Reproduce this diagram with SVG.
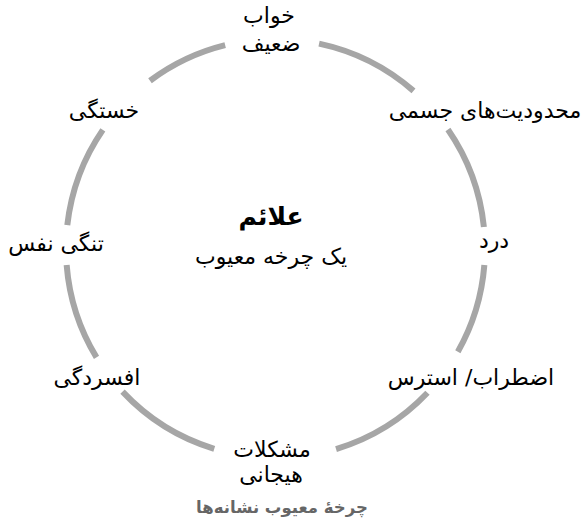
<svg xmlns="http://www.w3.org/2000/svg" width="583" height="525" viewBox="0 0 583 525">
<style>
.arc{fill:none;stroke:#a6a6a6;stroke-width:6}
.lbl{font-family:"DejaVu Sans",sans-serif;font-size:22px;fill:#000;text-anchor:middle}
.title{font-family:"DejaVu Sans",sans-serif;font-size:25px;font-weight:bold;fill:#000;text-anchor:middle}
.cap{font-family:"DejaVu Sans",sans-serif;font-size:16.5px;font-weight:bold;fill:#666;text-anchor:middle}
</style>
<rect width="583" height="525" fill="#fff"/>
<g id="connectors">
<path class="arc" d="M319.06 43.58 A209.5 209.5 0 0 1 413.5 90.87"/>
<path class="arc" d="M447.95 129.54 A209.5 209.5 0 0 1 483.89 226.97"/>
<path class="arc" d="M484.35 264.94 A209.5 209.5 0 0 1 457.84 351.66"/>
<path class="arc" d="M427.46 392.71 A209.5 209.5 0 0 1 336.05 449.06"/>
<path class="arc" d="M214.25 448.84 A209.5 209.5 0 0 1 122.53 391.64"/>
<path class="arc" d="M96.5 357.34 A209.5 209.5 0 0 1 66.65 264.94"/>
<path class="arc" d="M67.31 225.15 A209.5 209.5 0 0 1 102.84 129.84"/>
<path class="arc" d="M150.01 80.75 A209.5 209.5 0 0 1 225.17 45.13"/>
</g>
<g id="center">
<text class="title" x="271" y="225">علائم</text>
<text class="lbl" x="271" y="264">یک چرخه معیوب</text>
</g>
<g id="sleep">
<text class="lbl" x="269" y="23">خواب</text>
<text class="lbl" x="271" y="51">ضعیف</text>
</g>
<g id="physical">
<text class="lbl" x="485" y="118">محدودیت&#8204;های جسمی</text>
</g>
<g id="pain">
<text class="lbl" x="494" y="248">درد</text>
</g>
<g id="anxiety">
<text class="lbl" x="471" y="385">اضطراب/ استرس</text>
</g>
<g id="emotional">
<text class="lbl" x="272" y="457">مشکلات</text>
<text class="lbl" x="271" y="482">هیجانی</text>
</g>
<g id="depression">
<text class="lbl" x="97" y="385">افسردگی</text>
</g>
<g id="breath">
<text class="lbl" x="56" y="251">تنگی نفس</text>
</g>
<g id="fatigue">
<text class="lbl" x="104" y="118">خستگی</text>
</g>
<g id="caption">
<text class="cap" x="282" y="513">چرخهٔ معیوب نشانه&#8204;ها</text>
</g>
</svg>
